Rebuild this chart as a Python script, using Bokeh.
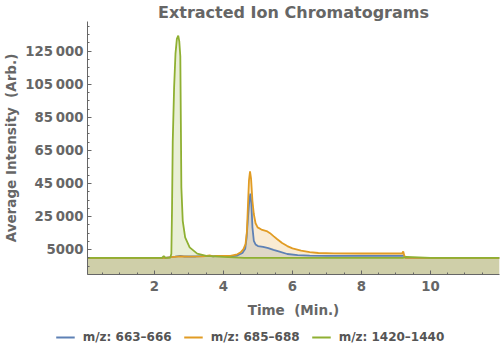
from bokeh.plotting import figure
from bokeh.models import (ColumnDataSource, FixedTicker, Legend, LegendItem, Range1d)
from bokeh.embed import file_html
from bokeh.resources import INLINE

# ---- data ----
series_names = ["m/z: 663\u2013666", "m/z: 685\u2013688", "m/z: 1420\u20131440"]
series_colors = ["#5e81b5", "#e19c24", "#8fb032"]

t_blue = [0.06, 2.3, 2.6, 2.75, 2.85, 3.2, 3.6, 3.7, 3.8, 4.2, 4.4, 4.55, 4.63, 4.67, 4.71,
          4.75, 4.78, 4.81, 4.84, 4.88, 4.93, 5.0, 5.15, 5.3, 5.45, 5.6, 5.85, 6.15, 6.5, 7.0,
          8.0, 9.18, 9.22, 9.28, 9.6, 12.0]
v_blue = [0, 0, 800, 1300, 900, 900, 1300, 1000, 1300, 1000, 1500, 3000, 5500, 12000, 24000,
          35000, 38900, 32600, 18500, 10400, 8200, 7200, 6700, 6000, 4900, 4000, 2400, 1700, 1400, 1300,
          1300, 1300, 1600, 0, 0, 0]

t_orange = [0.06, 2.3, 2.5, 2.75, 3.0, 3.4, 3.6, 3.7, 3.8, 4.2, 4.4, 4.5, 4.58, 4.64, 4.68,
            4.71, 4.74, 4.77, 4.8, 4.84, 4.88, 4.93, 4.99, 5.1, 5.25, 5.35, 5.45, 5.56, 5.7,
            5.85, 6.0, 6.25, 6.5, 6.75, 7.2, 8.0, 9.18, 9.21, 9.24, 9.28, 12.0]
v_orange = [0, 0, 500, 1000, 800, 1000, 1500, 1000, 1300, 1200, 2200, 3400, 5400, 8400, 16000,
            32000, 47000, 52400, 48000, 34600, 26600, 21000, 18500, 17200, 16300, 15000, 13200, 11300, 9000,
            7200, 5800, 4400, 3500, 3000, 2800, 2700, 2700, 4000, 1500, 0, 0]

t_green = [0.06, 2.22, 2.27, 2.32, 2.46, 2.49, 2.51, 2.53, 2.57, 2.61, 2.65, 2.69, 2.72, 2.75,
           2.765, 2.78, 2.82, 2.89, 3.02, 3.24, 3.5, 4.0, 4.6, 9.2, 9.3, 10.0, 12.0]
v_green = [0, 0, 1200, 0, 200, 2500, 30000, 70000, 103000, 123600, 132500, 134500, 131000, 122000,
           83000, 42700, 22500, 12400, 6400, 2600, 1300, 600, 0, 0, 600, 0, 0]

x_ticks = [2, 4, 6, 8, 10]
y_ticks = [5000, 25000, 45000, 65000, 85000, 105000, 125000]
y_tick_labels = ["5000", "25\u2009000", "45\u2009000", "65\u2009000", "85\u2009000",
                 "105\u2009000", "125\u2009000"]

X_RANGE = (0.06, 12.0)
Y_RANGE = (-10000, 143000)

# ---- main figure ----
p = figure(width=500, height=322, output_backend="svg", toolbar_location=None,
           x_range=Range1d(*X_RANGE), y_range=Range1d(*Y_RANGE),
           min_border_left=87, min_border_right=1, min_border_top=20, min_border_bottom=48)
p.outline_line_color = None
p.grid.visible = False
p.background_fill_color = "white"

p.title.text = "Extracted Ion Chromatograms"
p.title.text_font = "DejaVu Sans"
p.title.text_font_style = "bold"
p.title.text_font_size = "16px"
p.title.text_color = "#666666"
p.title.align = "center"
p.title.standoff = 0

data = [(t_blue, v_blue), (t_orange, v_orange), (t_green, v_green)]
sources = []
for (t, v) in data:
    src = ColumnDataSource(dict(t=t, v=v, base=[Y_RANGE[0]] * len(t)))
    sources.append(src)

for src, col in zip(sources, series_colors):
    p.varea(x="t", y1="base", y2="v", source=src, fill_color=col, fill_alpha=0.2)

for src, col in zip(sources, series_colors):
    p.line(x="t", y="v", source=src, line_color=col, line_width=1.8)

# axes
for ax in (p.xaxis[0], p.yaxis[0]):
    ax.axis_line_color = "#666666"
    ax.major_tick_line_color = "#666666"
    ax.minor_tick_line_color = "#666666"
    ax.major_tick_in = 4
    ax.major_tick_out = 0
    ax.minor_tick_in = 2
    ax.minor_tick_out = 0
    ax.major_label_text_font = "DejaVu Sans"
    ax.major_label_text_font_style = "bold"
    ax.major_label_text_font_size = "13.3px"
    ax.major_label_text_color = "#666666"
    ax.axis_label_text_font = "DejaVu Sans"
    ax.axis_label_text_font_style = "bold"
    ax.axis_label_text_font_size = "13.5px"
    ax.axis_label_text_color = "#666666"

p.xaxis[0].ticker = FixedTicker(ticks=x_ticks, minor_ticks=[i * 0.5 for i in range(1, 24)])
p.xaxis[0].axis_label = "Time\u00a0\u00a0(Min.)"
p.xaxis[0].major_label_standoff = 6
p.xaxis[0].axis_label_standoff = 8

p.yaxis[0].ticker = FixedTicker(ticks=y_ticks, minor_ticks=list(range(-10000, 145001, 5000)))
p.yaxis[0].major_label_overrides = {k: s for k, s in zip(y_ticks, y_tick_labels)}
p.yaxis[0].axis_label = "Average Intensity\u00a0\u00a0(Arb.)"
p.yaxis[0].major_label_standoff = 4
p.yaxis[0].axis_label_standoff = 3

# ---- legend strip (separate root, so it is centred on the whole width) ----
pl = figure(width=500, height=30, output_backend="svg", toolbar_location=None,
            x_axis_location=None, y_axis_location=None,
            x_range=Range1d(0, 1), y_range=Range1d(0, 1), min_border=0)
pl.outline_line_color = None
pl.grid.visible = False
nan = float("nan")
key_renderers = [pl.line(x=[nan], y=[nan], line_color=col, line_width=1.8) for col in series_colors]

legend = Legend(items=[LegendItem(label=n, renderers=[r]) for n, r in zip(series_names, key_renderers)],
                orientation="horizontal", location="center", margin=0,
                glyph_width=19, glyph_height=12, label_standoff=8, spacing=12, padding=0,
                border_line_color=None, background_fill_alpha=0,
                label_text_font="DejaVu Sans", label_text_font_style="bold",
                label_text_font_size="12px", label_text_color="#555555")
pl.add_layout(legend, "center")

open("out.html", "w").write(file_html([p, pl], INLINE))
